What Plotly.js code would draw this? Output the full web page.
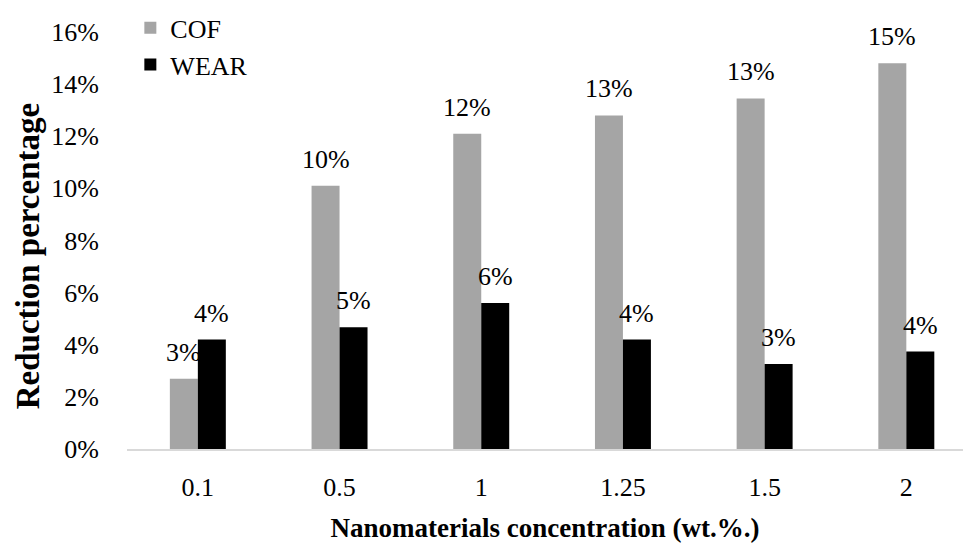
<!DOCTYPE html>
<html>
<head>
<meta charset="utf-8">
<script src="https://cdn.plot.ly/plotly-3.0.1.min.js"></script>
<style>
  html, body { margin: 0; padding: 0; background: #fff; }
  #chart { width: 963px; height: 543px; }
</style>
</head>
<body>
<div id="chart"></div>
<script>
// Nanomaterial concentrations (wt.%) on the category axis
const concentrations = ['0.1', '0.5', '1', '1.25', '1.5', '2'];
// Reduction of friction coefficient and wear, as fractions
const cofReduction  = [0.027, 0.101, 0.121, 0.128, 0.1345, 0.148];
const wearReduction = [0.042, 0.0467, 0.056, 0.042, 0.0326, 0.0374];
// Y-axis tick values
const yTicks = [0, 0.02, 0.04, 0.06, 0.08, 0.10, 0.12, 0.14, 0.16];

const FONT = '"Liberation Serif", "Times New Roman", serif';
const COF_COLOR = '#a5a5a5';
const WEAR_COLOR = '#000000';
const HALF_BAR_PX = 14;
const LABEL_SIZE = 26;

const traces = [
  {
    type: 'bar', name: 'COF', x: concentrations, y: cofReduction,
    legendgroup: 'cof', marker: { color: COF_COLOR }, hoverinfo: 'x+y'
  },
  {
    type: 'bar', name: 'WEAR', x: concentrations, y: wearReduction,
    legendgroup: 'wear', marker: { color: WEAR_COLOR }, hoverinfo: 'x+y'
  }
];

// Value labels above each bar, rounded to whole percents.
// On a category axis annotations are placed by category index.
const pct = v => Math.round(v * 100) + '%';
const annotations = [];
concentrations.forEach((c, i) => {
  annotations.push({
    x: i, y: cofReduction[i], xref: 'x', yref: 'y', text: pct(cofReduction[i]),
    showarrow: false, yanchor: 'bottom', xanchor: 'center',
    xshift: -HALF_BAR_PX, yshift: 10, font: { family: FONT, size: LABEL_SIZE, color: '#000' }
  });
  annotations.push({
    x: i, y: wearReduction[i], xref: 'x', yref: 'y', text: pct(wearReduction[i]),
    showarrow: false, yanchor: 'bottom', xanchor: 'center',
    xshift: HALF_BAR_PX, yshift: 10, font: { family: FONT, size: LABEL_SIZE, color: '#000' }
  });
});

// Y-axis title, placed a little below the plot centre
annotations.push({
  text: '<b>Reduction percentage</b>', textangle: -90,
  xref: 'paper', yref: 'paper', x: -0.118, y: 0.463,
  xanchor: 'center', yanchor: 'middle', showarrow: false,
  font: { family: FONT, size: 33, color: '#000' }
});

const layout = {
  width: 963, height: 543,
  margin: { l: 127, r: 0, t: 32, b: 93.5, autoexpand: false },
  paper_bgcolor: '#fff', plot_bgcolor: '#fff',
  font: { family: FONT, size: LABEL_SIZE, color: '#000' },
  barmode: 'group', bargap: 0.605, bargroupgap: 0,
  showlegend: true,
  legend: {
    x: 0.004, y: 0.992, xref: 'paper', yref: 'container',
    xanchor: 'left', yanchor: 'top',
    traceorder: 'grouped', tracegroupgap: 0,
    font: { family: FONT, size: LABEL_SIZE, color: '#000' },
    bgcolor: 'rgba(0,0,0,0)'
  },
  xaxis: {
    type: 'category', range: [-0.5, 5.4],
    showline: true, linecolor: '#d9d9d9', linewidth: 2,
    ticks: '', showgrid: false, zeroline: false,
    tickfont: { family: FONT, size: LABEL_SIZE },
    ticklabelstandoff: 14,
    title: { text: '<b>Nanomaterials concentration (wt.%.)</b>', font: { family: FONT, size: 27 }, standoff: 17 }
  },
  yaxis: {
    range: [0, 0.16], tickvals: yTicks, tickformat: '.0%',
    showline: false, showgrid: false, zeroline: false, ticks: '',
    tickfont: { family: FONT, size: LABEL_SIZE },
    ticklabelstandoff: 27
  },
  annotations: annotations
};

Plotly.newPlot('chart', traces, layout, { displayModeBar: false, staticPlot: true });
</script>
</body>
</html>
